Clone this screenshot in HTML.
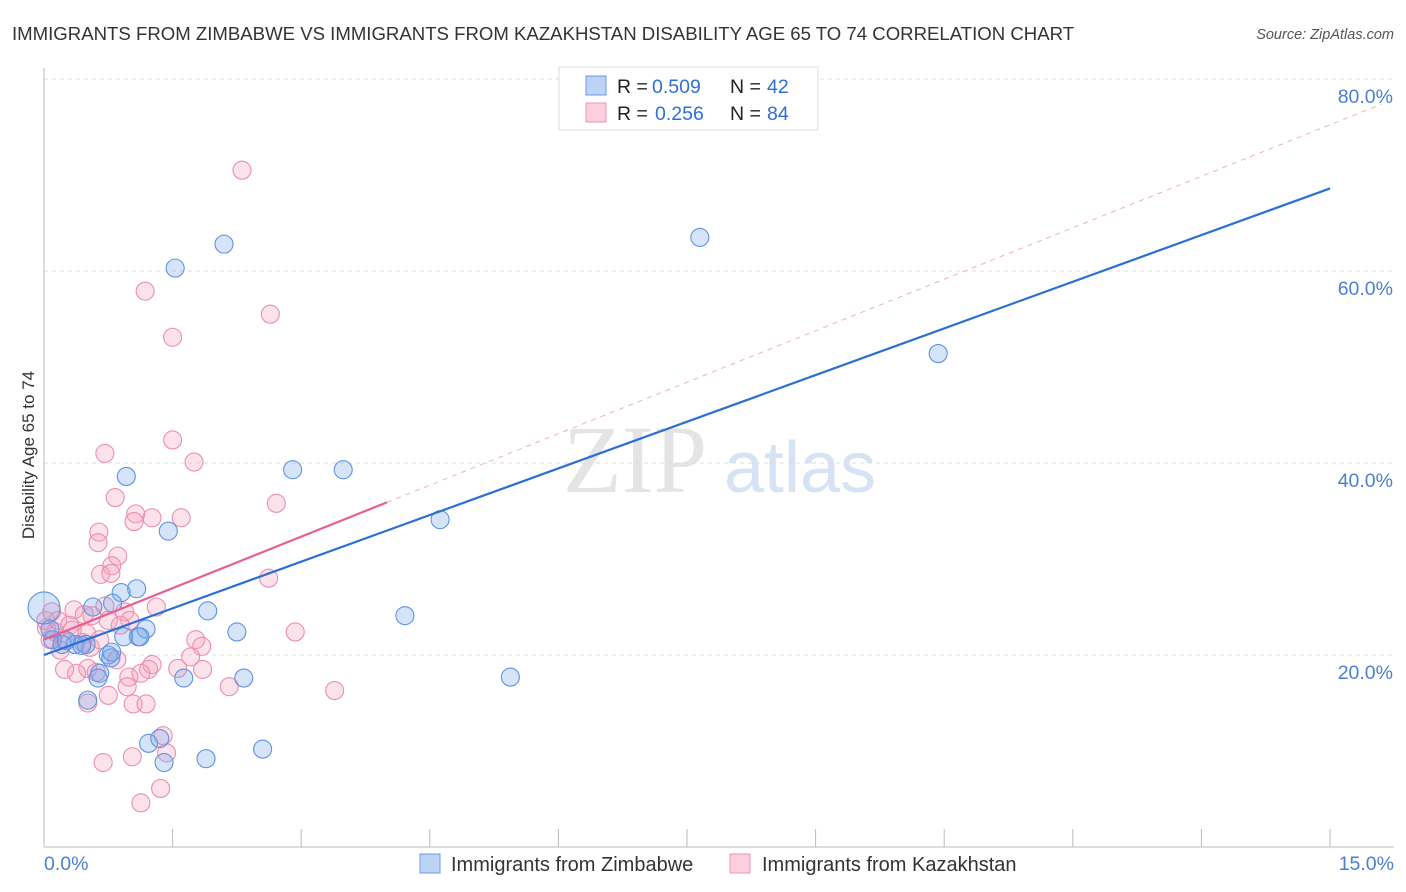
<!DOCTYPE html>
<html><head><meta charset="utf-8"><style>
body{margin:0;background:#fff;font-family:"Liberation Sans",sans-serif;}
svg{display:block}
</style></head><body>
<svg id="chart" width="1406" height="892">
<text x="12" y="40" font-size="18.6" fill="#333">IMMIGRANTS FROM ZIMBABWE VS IMMIGRANTS FROM KAZAKHSTAN DISABILITY AGE 65 TO 74 CORRELATION CHART</text>
<text x="1394" y="39" font-size="14.5" fill="#555" font-style="italic" text-anchor="end">Source: ZipAtlas.com</text>
<text x="635" y="492" font-size="96" fill="#e4e4e4" font-family="Liberation Serif,serif" text-anchor="middle">ZIP</text>
<text x="800" y="492" font-size="72" fill="#d6e3f5" text-anchor="middle">atlas</text>
<g id="grid"></g><g id="axes"></g><g id="pts"></g><g id="lines"></g>
<text transform="translate(34,455) rotate(-90)" font-size="17" fill="#333" text-anchor="middle">Disability Age 65 to 74</text>
<g>
<rect x="559" y="67" width="259" height="63" fill="#fff" stroke="#ddd"/>
<rect x="586" y="76" width="20" height="19" fill="#bcd3f5" stroke="#6b9be3"/>
<rect x="586" y="103" width="20" height="19" fill="#fbcfdd" stroke="#ec95b2"/>
<text x="617" y="93" font-size="19.5" fill="#222">R =</text><text x="652" y="93" font-size="19.5" fill="#2f6fd6">0.509</text>
<text x="730" y="93" font-size="19.5" fill="#222">N =</text><text x="767" y="93" font-size="19.5" fill="#2f6fd6">42</text>
<text x="617" y="120" font-size="19.5" fill="#222">R =</text><text x="655" y="120" font-size="19.5" fill="#2f6fd6">0.256</text>
<text x="730" y="120" font-size="19.5" fill="#222">N =</text><text x="767" y="120" font-size="19.5" fill="#2f6fd6">84</text>
</g>
<g>
<rect x="420" y="854" width="20" height="19" fill="#bcd3f5" stroke="#6b9be3"/>
<text x="451" y="871" font-size="20" fill="#333">Immigrants from Zimbabwe</text>
<rect x="730" y="854" width="20" height="19" fill="#fbcfdd" stroke="#ec95b2"/>
<text x="762" y="871" font-size="20" fill="#333">Immigrants from Kazakhstan</text>
</g>
</svg>
<script>
const yTicks=[20,40,60,80];
const xTickLabels=["0.0%","15.0%"];
const blueX=[1.53,2.10,7.65,10.43,0.96,2.90,3.49,1.45,4.62,1.08,0.90,0.80,0.57,1.91,4.21,1.19,2.25,0.93,1.10,0.36,0.49,0.10,0.75,0.78,0.65,1.63,2.33,5.44,0.63,0.51,1.22,1.35,1.40,1.89,2.55,0.21,0.07,1.12,0.0,0.26,0.79,0.44];
const blueY=[60.3,62.8,63.5,51.4,38.6,39.3,39.3,32.9,34.1,26.9,26.5,25.4,25.0,24.6,24.1,22.7,22.4,21.9,21.9,21.1,21.1,21.6,20.0,19.7,18.1,17.6,17.6,17.7,17.6,15.3,10.8,11.3,8.8,9.2,10.2,21.1,22.7,21.9,24.9,21.5,20.3,21.0];
const pinkX=[2.31,1.18,2.64,1.50,1.50,1.75,0.71,0.83,2.71,1.07,1.26,1.60,0.64,1.05,0.63,0.86,0.79,0.66,0.78,2.62,1.31,0.71,0.94,0.35,0.56,1.00,0.75,1.77,1.84,0.50,2.93,0.13,0.03,0.22,0.45,0.85,0.51,0.24,1.26,1.56,1.22,1.85,1.71,0.38,0.61,0.99,1.13,0.75,0.97,2.16,3.39,0.51,1.04,1.19,1.39,1.43,1.03,0.69,1.13,1.36,0.02,0.07,0.16,0.30,0.47,0.19,0.33,0.09,0.54,0.89,0.65];
const pinkY=[70.5,57.9,55.5,53.1,42.4,40.1,41.0,36.4,35.8,34.7,34.3,34.3,32.8,33.9,31.7,30.3,29.3,28.4,28.5,28.0,25.0,25.1,24.5,24.7,24.1,23.6,23.6,21.6,20.9,22.2,22.4,22.4,22.8,21.6,21.3,19.5,18.6,18.5,19.0,18.6,18.5,18.5,19.8,18.1,18.2,17.7,18.1,15.8,16.7,16.7,16.3,15.0,14.9,14.9,11.6,9.8,9.4,8.8,4.6,6.1,23.6,21.6,23.6,23.1,24.2,20.5,22.6,24.5,20.8,23.1,21.6];
const blueLine=[20.0,68.6];
const pinkLine=[21.6,35.9,4.0];
const NS="http://www.w3.org/2000/svg";
const X=v=>44+v/15*1286, Y=v=>847-v*9.6;
function mk(t,a,p){const e=document.createElementNS(NS,t);for(const k in a)e.setAttribute(k,a[k]);p.appendChild(e);return e;}
const grid=document.getElementById('grid'),axes=document.getElementById('axes'),pts=document.getElementById('pts'),lines=document.getElementById('lines');
yTicks.forEach(t=>{
 const l=mk('line',{x1:44,x2:1394,y1:Y(t),y2:Y(t),stroke:'#ddd','stroke-dasharray':'4,4'},grid);
 
 
 const tx=mk('text',{x:1393,y:Y(t)+24,'font-size':19.5,fill:'#4a7fd4','text-anchor':'end'},grid);
 tx.textContent=t.toFixed(1)+'%';
 
 
});
const ax=mk('line',{x1:44,x2:44,y1:68,y2:847,stroke:'#bbb'},axes);


const bx=mk('line',{x1:44,x2:1394,y1:847,y2:847,stroke:'#bbb'},axes);


for(let i=0;i<=10;i++){const tk=mk('line',{x1:X(i*1.5),x2:X(i*1.5),y1:829,y2:847,stroke:'#bbb'},axes);
 
 }
[[0,'start',44],[15,'end',1394]].forEach((d,i)=>{const t=mk('text',{x:d[2],y:870,'font-size':19.5,fill:'#4a7fd4','text-anchor':d[1]},axes);t.textContent=xTickLabels[i];
 
 });
pinkX.forEach((x,i)=>{const c=mk('circle',{cx:X(x),cy:Y(pinkY[i]),r:9,fill:'rgba(244,160,188,0.3)',stroke:'#ec8fae','stroke-width':1.1},pts);
 
 });
blueX.forEach((x,i)=>{const c=mk('circle',{cx:X(x),cy:Y(blueY[i]),r:x===0?16:9,fill:'rgba(120,165,235,0.3)',stroke:'#5e93e3','stroke-width':1.1},pts);
 
 });
const slope=(pinkLine[1]-pinkLine[0])/pinkLine[2];
const pd=mk('line',{x1:X(pinkLine[2]),y1:Y(pinkLine[1]),x2:X(15.6),y2:Y(pinkLine[0]+slope*15.6),stroke:'#eeb0c4','stroke-dasharray':'5,5','stroke-width':1},lines);


const bl=mk('line',{x1:X(0),y1:Y(blueLine[0]),x2:X(15),y2:Y(blueLine[1]),stroke:'#2a6fd6','stroke-width':2.2},lines);


const pl=mk('line',{x1:X(0),y1:Y(pinkLine[0]),x2:X(pinkLine[2]),y2:Y(pinkLine[1]),stroke:'#e8608f','stroke-width':2.2},lines);


</script>
</body></html>
